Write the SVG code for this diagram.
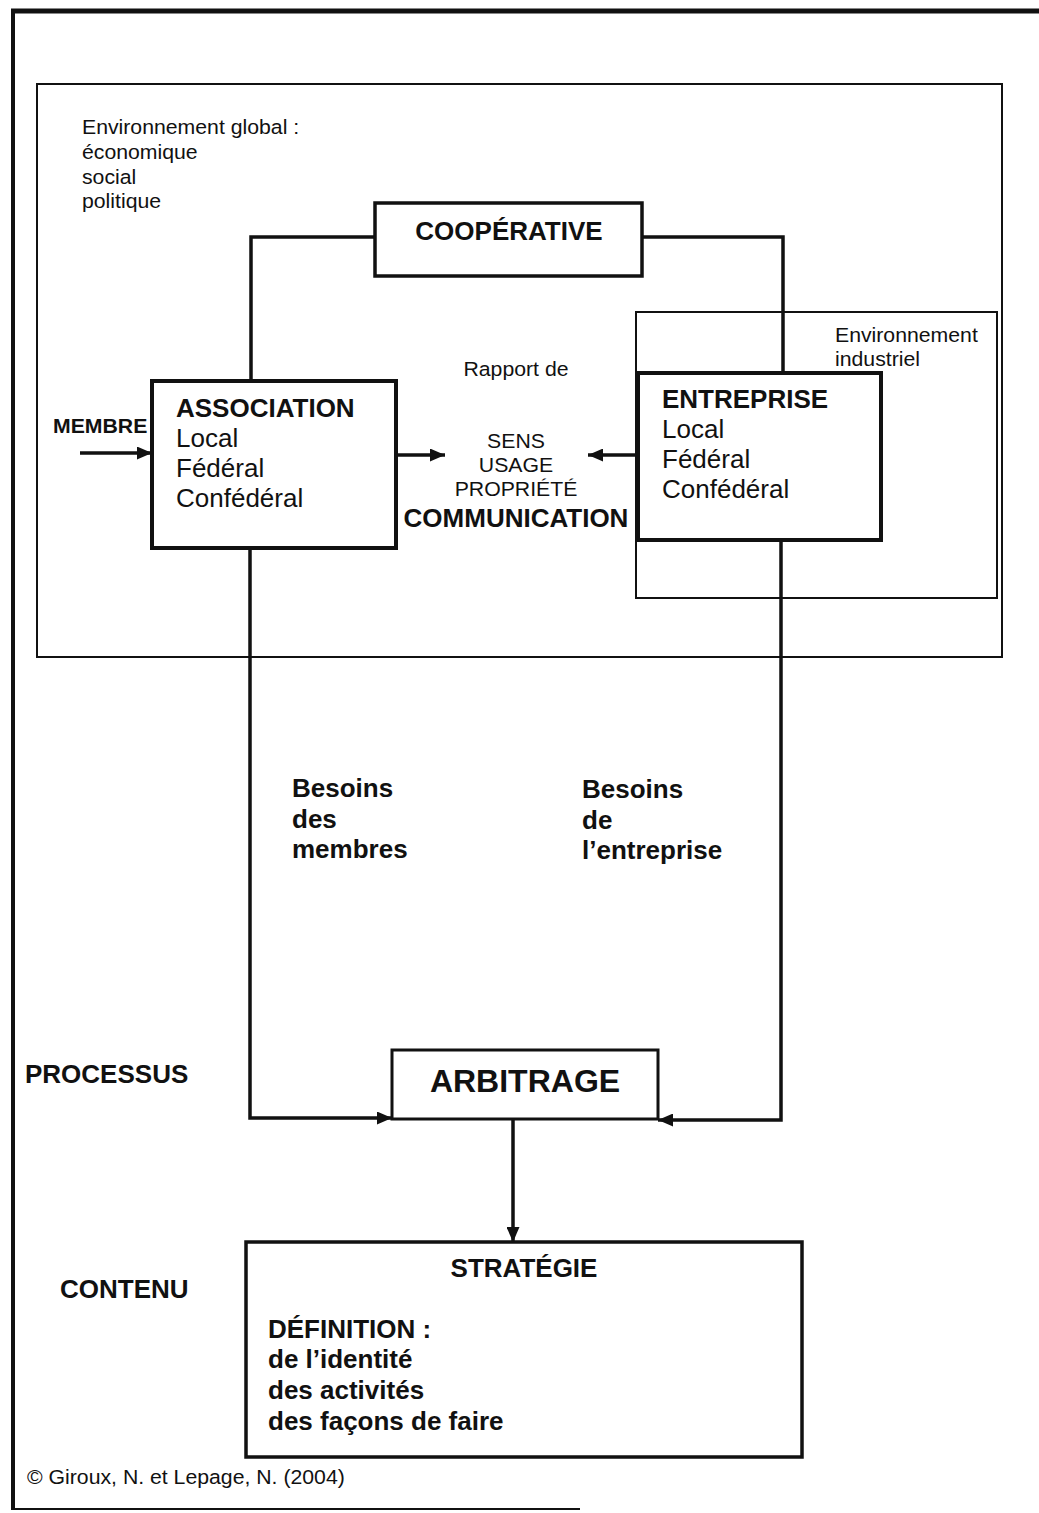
<svg xmlns="http://www.w3.org/2000/svg" width="1039" height="1513" viewBox="0 0 1039 1513">
  <defs>
    <marker id="head" markerUnits="userSpaceOnUse" markerWidth="15" markerHeight="13" refX="15" refY="6.5" orient="auto">
      <path d="M0,0 L15,6.5 L0,13 Z" fill="#111"/>
    </marker>
    <style>
      .frame { fill: none; stroke: #111; }
      .box { fill: #fff; stroke: #111; }
      .link { fill: none; stroke: #111; stroke-width: 3.5; }
      .sm { font-family: "Liberation Sans", Arial, sans-serif; font-size: 19.5px; fill: #111; }
      .smb { font-family: "Liberation Sans", Arial, sans-serif; font-size: 19.5px; font-weight: bold; fill: #111; }
      .big { font-family: "Liberation Sans", Arial, sans-serif; font-size: 26px; fill: #111; }
      .bigb { font-family: "Liberation Sans", Arial, sans-serif; font-size: 26px; font-weight: bold; fill: #111; }
      .mid { text-anchor: middle; }
    </style>
  </defs>

  <rect width="1039" height="1513" fill="#fff"/>

  <!-- page frame -->
  <g id="page-frame">
    <line class="frame" x1="11" y1="11" x2="1039" y2="11" stroke-width="5"/>
    <line class="frame" x1="13" y1="9" x2="13" y2="1510" stroke-width="4"/>
    <line class="frame" x1="13" y1="1509" x2="580" y2="1509" stroke-width="2" stroke="#444"/>
  </g>

  <!-- environment frames -->
  <g id="env-global">
    <rect class="frame" x="37" y="84" width="965" height="573" stroke-width="2"/>
    <g transform="matrix(1.09 0 0 1 82 0)">
      <text class="sm" x="0" y="134">Environnement global :</text>
      <text class="sm" x="0" y="159">économique</text>
      <text class="sm" x="0" y="184">social</text>
      <text class="sm" x="0" y="208">politique</text>
    </g>
  </g>
  <g id="env-industriel">
    <rect class="frame" x="636" y="312" width="361" height="286" stroke-width="2"/>
    <g transform="matrix(1.09 0 0 1 835 0)">
      <text class="sm" x="0" y="342">Environnement</text>
      <text class="sm" x="0" y="366">industriel</text>
    </g>
  </g>

  <!-- connectors -->
  <g id="connectors">
    <path class="link" d="M375,237 H251 V381"/>
    <path class="link" d="M642,237 H783 V373"/>
    <path class="link" stroke-width="2.5" d="M80,453 H152" marker-end="url(#head)"/>
    <path class="link" stroke-width="2.5" d="M396,455 H445" marker-end="url(#head)"/>
    <path class="link" stroke-width="2.5" d="M638,455 H588" marker-end="url(#head)"/>
    <path class="link" d="M250,548 V1118 H392" marker-end="url(#head)"/>
    <path class="link" d="M781,540 V1120 H658" marker-end="url(#head)"/>
    <path class="link" stroke-width="2" d="M513,1120 V1242" marker-end="url(#head)"/>
  </g>

  <g id="cooperative">
    <rect class="box" x="375" y="203" width="267" height="73" stroke-width="3.5"/>
    <text class="bigb mid" x="509" y="240">COOPÉRATIVE</text>
  </g>

  <g id="membre">
    <g transform="matrix(1.09 0 0 1 53 0)">
      <text class="smb" x="0" y="433">MEMBRE</text>
    </g>
  </g>

  <g id="association">
    <rect class="box" x="152" y="381" width="244" height="167" stroke-width="4"/>
    <text class="bigb" x="176" y="417">ASSOCIATION</text>
    <text class="big" x="176" y="447">Local</text>
    <text class="big" x="176" y="477">Fédéral</text>
    <text class="big" x="176" y="507">Confédéral</text>
  </g>

  <g id="rapport">
    <g transform="matrix(1.09 0 0 1 516 0)">
      <text class="sm mid" x="0" y="376">Rapport de</text>
      <text class="sm mid" x="0" y="448">SENS</text>
      <text class="sm mid" x="0" y="472">USAGE</text>
      <text class="sm mid" x="0" y="496">PROPRIÉTÉ</text>
    </g>
    <text class="bigb mid" x="516" y="527">COMMUNICATION</text>
  </g>

  <g id="entreprise">
    <rect class="box" x="638" y="373" width="243" height="167" stroke-width="4"/>
    <text class="bigb" x="662" y="408">ENTREPRISE</text>
    <text class="big" x="662" y="438">Local</text>
    <text class="big" x="662" y="468">Fédéral</text>
    <text class="big" x="662" y="498">Confédéral</text>
  </g>

  <g id="besoins-membres">
    <text class="bigb" x="292" y="797">Besoins</text>
    <text class="bigb" x="292" y="828">des</text>
    <text class="bigb" x="292" y="858">membres</text>
  </g>
  <g id="besoins-entreprise">
    <text class="bigb" x="582" y="798">Besoins</text>
    <text class="bigb" x="582" y="829">de</text>
    <text class="bigb" x="582" y="859">l’entreprise</text>
  </g>

  <g id="processus">
    <text class="bigb" x="25" y="1083">PROCESSUS</text>
  </g>

  <g id="arbitrage">
    <rect class="box" x="392" y="1050" width="266" height="69" stroke-width="3"/>
    <text class="bigb mid" x="525" y="1092" style="font-size:32px">ARBITRAGE</text>
  </g>

  <g id="contenu">
    <text class="bigb" x="60" y="1298">CONTENU</text>
  </g>

  <g id="strategie">
    <rect class="box" x="246" y="1242" width="556" height="215" stroke-width="3.5"/>
    <text class="bigb mid" x="524" y="1277">STRATÉGIE</text>
    <text class="bigb" x="268" y="1338">DÉFINITION :</text>
    <text class="bigb" x="268" y="1368">de l’identité</text>
    <text class="bigb" x="268" y="1399">des activités</text>
    <text class="bigb" x="268" y="1430">des façons de faire</text>
  </g>

  <g id="credit">
    <g transform="matrix(1.09 0 0 1 27 0)">
      <text class="sm" x="0" y="1484">© Giroux, N. et Lepage, N. (2004)</text>
    </g>
  </g>
</svg>
